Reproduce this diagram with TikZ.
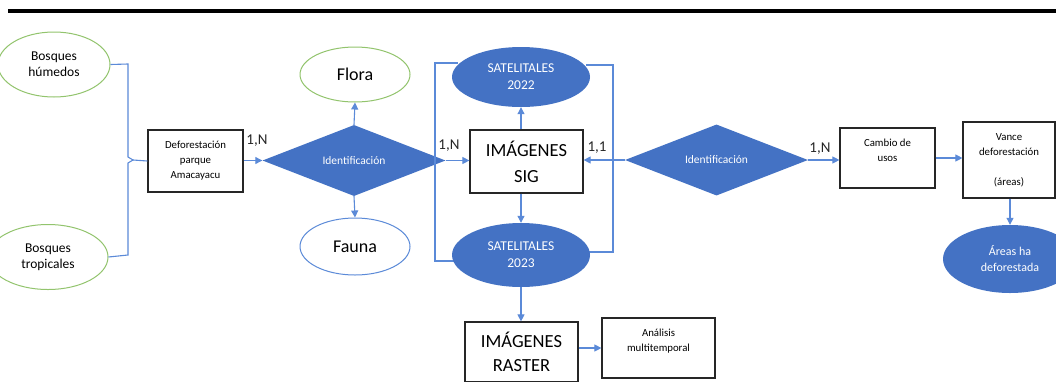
\documentclass[tikz,border=0pt]{standalone}
\usepackage{fontspec}
\setmainfont{Carlito}
\usepackage{xcolor}
\usetikzlibrary{shapes}
\usetikzlibrary{arrows.meta}
\definecolor{ofblue}{HTML}{4472C4}
\definecolor{lnblue}{HTML}{5B8AD8}
\definecolor{ofgreen}{HTML}{92C46D}
\tikzset{
  box/.style={draw=black!85, line width=1.2pt, fill=white, inner sep=0pt, align=center},
  ent/.style={ellipse, draw=ofgreen, line width=1pt, fill=white, inner sep=0pt, align=center},
  sat/.style={ellipse, fill=ofblue, text=white, inner sep=0pt, align=center},
  rel/.style={diamond, fill=ofblue, text=white, inner sep=0pt},
  con/.style={-{Triangle[length=7pt,width=7pt]}, lnblue, line width=1.1pt},
  brace/.style={lnblue, line width=1.1pt},
  card/.style={font=\fontsize{15}{17}\selectfont, text=black!85},
  small/.style={font=\fontsize{10.8}{15}\selectfont},
}
\begin{document}
\begin{tikzpicture}[x=1pt,y=-1pt]
\useasboundingbox (0,0) rectangle (1056,381);
\clip (0,0) rectangle (1056,381);
\fill[white] (0,0) rectangle (1056,381);
\draw[line width=4pt] (8,11)--(1056,11);
% entidades de la izquierda
\node[ent, minimum width=112pt, minimum height=65pt, font=\fontsize{13.5}{16}\selectfont] (bh) at (54,64.5) {Bosques\\húmedos};
\node[ent, minimum width=120pt, minimum height=65pt, font=\fontsize{13.5}{16}\selectfont] (bt) at (48,257) {Bosques\\tropicales};
\node[box, small, minimum width=95pt, minimum height=62pt] (dpa) at (195.5,161) {Deforestación\\parque\\Amacayacu};
\coordinate (lb) at (133,160);
\draw[brace] (bh.east)--(128,64)--(128,157)--(lb)--(128,163)--(128,255)--(bt.east);
\draw[brace] (lb)--(dpa.west);
% primera relacion
\node[rel, font=\fontsize{11.5}{14}\selectfont, minimum width=183pt, minimum height=55pt] (d1) at (354,160.5) {Identificación};
\node[ent, minimum width=110pt, minimum height=55pt, font=\fontsize{18}{20}\selectfont] (flora) at (355,74.5) {Flora};
\node[ent, draw=lnblue, minimum width=110pt, minimum height=57pt, font=\fontsize{18}{20}\selectfont] (fauna) at (355,246.5) {Fauna};
\draw[con] (dpa.east |- d1.west)--(d1.west);
\draw[con] (d1.north)--(flora.south);
\draw[con] (d1.south)--(fauna.north);
\node[card] (c1) at (257,141) {1,N};
% imagenes sig
\coordinate (sl1) at (458,63);
\coordinate (sl2) at (458,261);
\coordinate (sr1) at (586,65);
\coordinate (sr2) at (586,252);
\draw[brace] (sl1)--(435,63)--(435,261)--(sl2);
\draw[brace] (sr1)--(613,65)--(613,252)--(sr2);
\node[sat, minimum width=138pt, minimum height=60pt, font=\fontsize{13.5}{17}\selectfont] (s22) at (521,77) {SATELITALES\\2022};
\node[sat, minimum width=138pt, minimum height=64pt, font=\fontsize{13.5}{17}\selectfont] (s23) at (521,255) {SATELITALES\\2023};
\node[box, minimum width=113pt, minimum height=63pt, font=\fontsize{18.5}{26}\selectfont] (sig) at (526.5,161.5) {IMÁGENES\\SIG};
\draw[con] (d1.east)--(sig.west |- d1.east);
\draw[con] (sig.north -| s22.south)--(s22.south);
\draw[con] (sig.south -| s23.north)--(s23.north);
\node[card] (c2) at (449,146) {1,N};
\node[card] (c3) at (597,148) {1,1};
% segunda relacion
\node[rel, font=\fontsize{11.5}{14}\selectfont, minimum width=183pt, minimum height=56pt] (d2) at (716.5,160) {Identificación};
\draw[con] (d2.west)--(sig.east |- d2.west);
\node[box, small, minimum width=95pt, minimum height=60pt] (cdu) at (887.5,158) {Cambio de\\usos\\~};
\draw[con] (d2.east)--(cdu.west |- d2.east);
\node[card] (c4) at (820,149) {1,N};
\node[box, small, minimum width=92pt, minimum height=76pt] (vdf) at (1009,160) {Vance\\deforestación\\~\\(áreas)};
\draw[con] (cdu.east)--(vdf.west |- cdu.east);
\node[sat, minimum width=134pt, minimum height=68pt, font=\fontsize{12}{16}\selectfont] (adf) at (1010,259) {Áreas ha\\deforestada};
\draw[con] (vdf.south -| adf.north)--(adf.north);
% imagenes raster
\node[box, minimum width=113pt, minimum height=60pt, font=\fontsize{18.5}{24}\selectfont] (rst) at (521.5,352) {IMÁGENES\\RASTER};
\node[box, small, minimum width=113pt, minimum height=60pt] (amt) at (658.5,348) {Análisis\\multitemporal\\~};
\draw[con] (s23.south)--(rst.north -| s23.south);
\draw[con] (rst.east |- amt.west)--(amt.west);
\end{tikzpicture}
\end{document}
